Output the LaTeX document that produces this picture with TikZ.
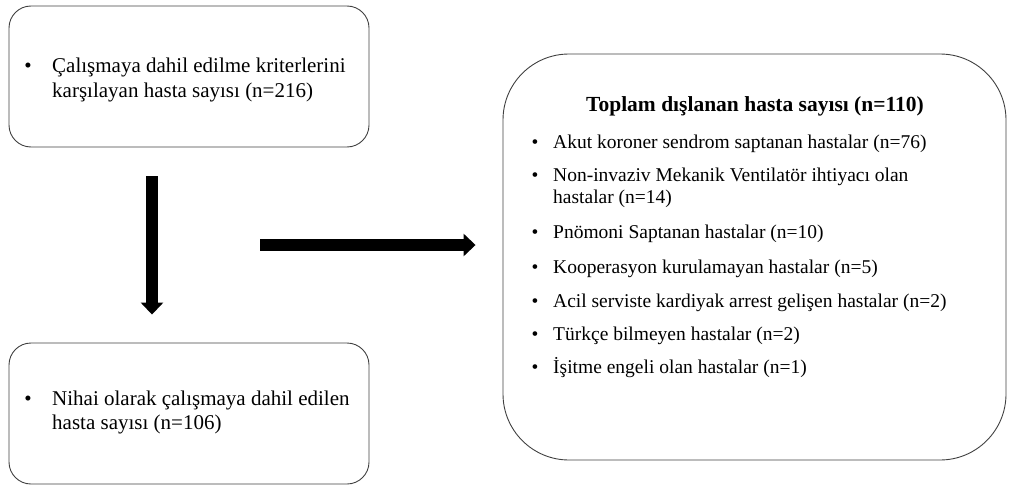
\documentclass[tikz,border=0pt]{standalone}
\usepackage{fontspec}
\setmainfont{Liberation Serif}
\usetikzlibrary{arrows.meta}
\begin{document}
\begin{tikzpicture}[x=1pt,y=1pt,
  box/.style={draw=black!75, line width=0.9pt, rounded corners=22pt, inner sep=0pt},
  bigbox/.style={draw=black!75, line width=0.9pt, rounded corners=66pt, inner sep=0pt},
  ltxt/.style={anchor=base west, inner sep=0pt, font=\fontsize{21}{24}\selectfont},
  rtxt/.style={anchor=base west, inner sep=0pt, font=\fontsize{19.5}{22}\selectfont},
  lbul/.style={anchor=base, inner sep=0pt, font=\fontsize{21}{24}\selectfont},
  rbul/.style={anchor=base, inner sep=0pt, font=\fontsize{19.5}{22}\selectfont},
  fat/.style={line width=11.5pt, -{Triangle[width=22pt,length=12pt]}}
]
\useasboundingbox (0,0) rectangle (1009,-487);
% boxes
\node[box, minimum width=360pt, minimum height=141pt] (inc) at (189,-76.5) {};
\node[box, minimum width=360pt, minimum height=141pt] (fin) at (189,-413.5) {};
\node[bigbox, minimum width=503pt, minimum height=406pt] (exc) at (754.5,-257) {};
% left texts
\node[lbul] (b1) at (28,-73) {•};
\node[ltxt] (t1a) at (52,-73) {Çalışmaya dahil edilme kriterlerini};
\node[ltxt] (t1b) at (52,-97) {karşılayan hasta sayısı (n=216)};
\node[lbul] (b2) at (28,-405) {•};
\node[ltxt] (t2a) at (52,-405) {Nihai olarak çalışmaya dahil edilen};
\node[ltxt] (t2b) at (52,-429) {hasta sayısı (n=106)};
% right texts
\node[anchor=base, inner sep=0pt, font=\fontsize{21.5}{24}\selectfont\bfseries] (title) at (755,-111) {Toplam dışlanan hasta sayısı (n=110)};
\node[rbul] (r1b) at (535,-148) {•};
\node[rtxt] (r1) at (553,-148) {Akut koroner sendrom saptanan hastalar (n=76)};
\node[rbul] (r2b) at (535,-181) {•};
\node[rtxt] (r2) at (553,-181) {Non-invaziv Mekanik Ventilatör ihtiyacı olan};
\node[rtxt] (r2c) at (553,-203) {hastalar (n=14)};
\node[rbul] (r3b) at (535,-238) {•};
\node[rtxt] (r3) at (553,-238) {Pnömoni Saptanan hastalar (n=10)};
\node[rbul] (r4b) at (535,-273) {•};
\node[rtxt] (r4) at (553,-273) {Kooperasyon kurulamayan hastalar (n=5)};
\node[rbul] (r5b) at (535,-307) {•};
\node[rtxt] (r5) at (553,-307) {Acil serviste kardiyak arrest gelişen hastalar (n=2)};
\node[rbul] (r6b) at (535,-340) {•};
\node[rtxt] (r6) at (553,-340) {Türkçe bilmeyen hastalar (n=2)};
\node[rbul] (r7b) at (535,-373) {•};
\node[rtxt] (r7) at (553,-373) {İşitme engeli olan hastalar (n=1)};
% arrows
\draw[fat, shorten <=29pt, shorten >=28pt] (inc.south -| 152,0) -- (fin.north -| 152,0);
\coordinate (hstart) at (260,-245);
\draw[fat, shorten >=27pt] (hstart) -- (exc.west |- hstart);
\end{tikzpicture}
\end{document}
